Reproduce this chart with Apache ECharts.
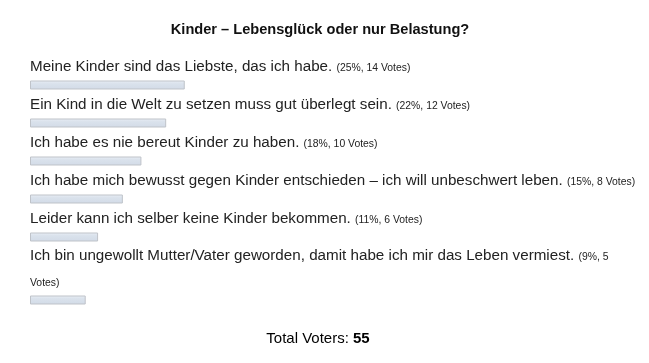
<!DOCTYPE html>
<html>
<head>
<meta charset="utf-8">
<script src="https://cdn.jsdelivr.net/npm/echarts@6/dist/echarts.min.js"></script>
<style>
  html, body { margin: 0; padding: 0; background: #ffffff; }
  #chart { width: 649px; height: 363px; }
</style>
</head>
<body>
<div id="chart"></div>
<script>
const pollTitle = 'Kinder – Lebensglück oder nur Belastung?';
const options = [
  'Meine Kinder sind das Liebste, das ich habe.',
  'Ein Kind in die Welt zu setzen muss gut überlegt sein.',
  'Ich habe es nie bereut Kinder zu haben.',
  'Ich habe mich bewusst gegen Kinder entschieden – ich will unbeschwert leben.',
  'Leider kann ich selber keine Kinder bekommen.',
  'Ich bin ungewollt Mutter/Vater geworden, damit habe ich mir das Leben vermiest.'
];
const percents = [25, 22, 18, 15, 11, 9];
const votes = [14, 12, 10, 8, 6, 5];
const totalVoters = 55;

// layout (pixel positions of each row's bar)
const rowTops = [80, 118, 156, 194, 232, 295];
const FAMILY = 'Liberation Sans';
const MAIN_SIZE = 15.2;
const SMALL_SIZE = 10.4;
const TEXT_COLOR = '#222222';
const WRAP_WIDTH = 607;

// word wrapping measured with canvas
const mctx = document.createElement('canvas').getContext('2d');
function textWidth(t, size) {
  mctx.font = size + 'px "' + FAMILY + '"';
  return mctx.measureText(t).width;
}
function buildLabel(name, pct, v) {
  const pieces = [];
  name.split(' ').forEach(w => pieces.push({ st: 'm', w: w, size: MAIN_SIZE }));
  ('(' + pct + '%, ' + v + ' Votes)').split(' ').forEach(w => pieces.push({ st: 's', w: w, size: SMALL_SIZE }));
  const lines = [[]];
  let cur = 0;
  pieces.forEach((p, idx) => {
    const ww = textWidth(p.w, p.size);
    const line = lines[lines.length - 1];
    if (line.length && cur + ww > WRAP_WIDTH) {
      lines.push([]);
      cur = 0;
    }
    lines[lines.length - 1].push(p);
    const next = pieces[idx + 1];
    cur += ww + (next ? textWidth(' ', p.size) : 0);
  });
  return lines.map(line => {
    let out = '';
    let buf = '', st = null;
    line.forEach((p, j) => {
      const txt = p.w + (j < line.length - 1 ? ' ' : '');
      if (st !== p.st && st !== null) { out += '{' + st + '|' + buf + '}'; buf = ''; }
      st = p.st;
      buf += txt;
    });
    if (st !== null) out += '{' + st + '|' + buf + '}';
    return out;
  }).join('\n');
}

const chart = echarts.init(document.getElementById('chart'), null, { renderer: 'canvas' });

const grids = [], xAxes = [], yAxes = [], series = [];
options.forEach((name, i) => {
  grids.push({ left: 30, width: 620, top: rowTops[i], height: 10 });
  xAxes.push({ gridIndex: i, type: 'value', min: 0, max: 100, show: false });
  yAxes.push({ gridIndex: i, type: 'category', data: [name], show: false });
  const labelText = buildLabel(name, percents[i], votes[i]);
  series.push({
    type: 'bar',
    xAxisIndex: i,
    yAxisIndex: i,
    data: [percents[i]],
    barWidth: 9,
    silent: true,
    itemStyle: {
      color: new echarts.graphic.LinearGradient(0, 0, 0, 1, [
        { offset: 0, color: '#eaeff5' },
        { offset: 0.35, color: '#dae2ec' },
        { offset: 1, color: '#d2dbe7' }
      ]),
      borderColor: '#bfc3c9',
      borderWidth: 1
    },
    label: {
      show: true,
      position: [0, -1],
      align: 'left',
      verticalAlign: 'bottom',
      formatter: function () { return labelText; },
      rich: {
        m: { fontFamily: FAMILY, fontSize: MAIN_SIZE, color: TEXT_COLOR, lineHeight: 26, verticalAlign: 'middle' },
        s: { fontFamily: FAMILY, fontSize: SMALL_SIZE, color: TEXT_COLOR, lineHeight: 26, verticalAlign: 'middle', padding: [3.5, 0, 0, 0] }
      }
    }
  });
});

chart.setOption({
  animation: false,
  backgroundColor: '#ffffff',
  grid: grids,
  xAxis: xAxes,
  yAxis: yAxes,
  series: series,
  graphic: [
    {
      type: 'text',
      x: 320,
      y: 30,
      silent: true,
      style: {
        text: pollTitle,
        font: 'bold 14.6px "' + FAMILY + '"',
        fill: '#111111',
        align: 'center',
        verticalAlign: 'middle'
      }
    },
    {
      type: 'text',
      x: 318,
      y: 339,
      silent: true,
      style: {
        text: '{a|Total Voters: }{b|' + totalVoters + '}',
        align: 'center',
        verticalAlign: 'middle',
        rich: {
          a: { fontFamily: FAMILY, fontSize: 15, color: TEXT_COLOR },
          b: { fontFamily: FAMILY, fontSize: 15, fontWeight: 'bold', color: TEXT_COLOR }
        }
      }
    }
  ]
});
</script>
</body>
</html>
